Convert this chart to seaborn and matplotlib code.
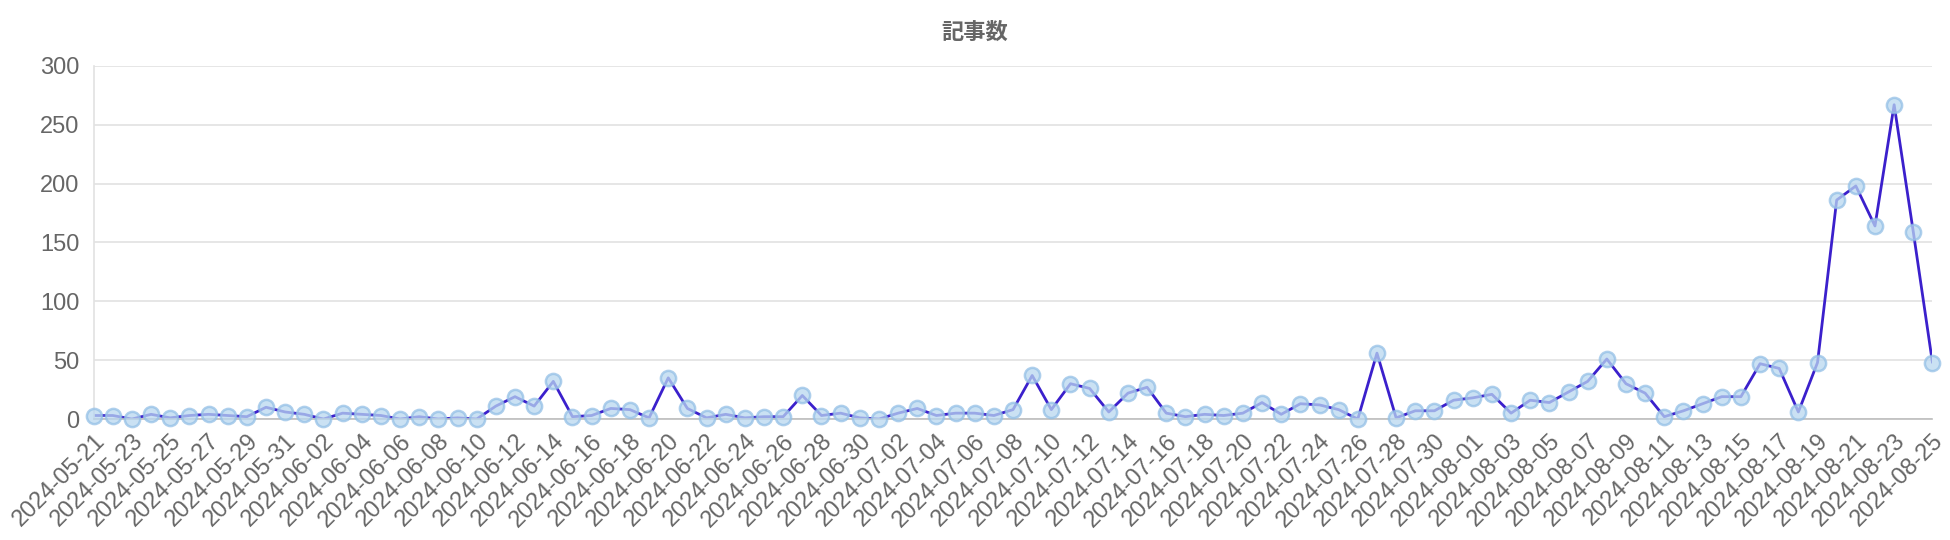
import pandas as pd
import seaborn as sns
import matplotlib.pyplot as plt
import matplotlib.dates as mdates

# ── Data ──────────────────────────────────────────────────────────────────────
start_date = "2024-05-21"
end_date = "2024-08-25"

counts_may = [3, 3, 0, 4, 1, 3, 4, 3, 2, 10, 6]
counts_jun = [4, 0, 5, 4, 3, 0, 2, 0, 1, 0, 11, 19, 11, 32, 2, 3, 9, 8, 1, 35,
              9, 1, 4, 1, 2, 2, 20, 3, 5, 1]
counts_jul = [0, 5, 9, 3, 5, 5, 3, 8, 37, 8, 30, 26, 6, 22, 27, 5, 2, 4, 3, 5,
              14, 4, 13, 12, 8, 0, 56, 1, 7, 7, 16]
counts_aug = [18, 21, 5, 16, 14, 23, 32, 51, 30, 22, 2, 7, 13, 19, 19, 47, 43,
              6, 48, 186, 198, 164, 267, 159, 48]

title = "記事数"
y_ticks = [0, 50, 100, 150, 200, 250, 300]

df = pd.DataFrame({
    "date": pd.date_range(start_date, end_date, freq="D"),
    "count": counts_may + counts_jun + counts_jul + counts_aug,
})

# ── Style ─────────────────────────────────────────────────────────────────────
sns.set_style("white")
plt.rcParams["font.family"] = ["Liberation Sans", "Noto Sans CJK JP", "DejaVu Sans"]

LINE_COLOR = "#3b20cc"
POINT_FILL = "#b9d7f0"
POINT_EDGE = "#94c0e6"
TEXT_COLOR = "#666666"
GRID_COLOR = "#e2e2e2"

fig, ax = plt.subplots(figsize=(19.5, 5.4), dpi=100)
fig.subplots_adjust(left=0.048, right=0.991, top=0.878, bottom=0.224)

sns.lineplot(data=df, x="date", y="count", color=LINE_COLOR, linewidth=2, ax=ax, zorder=2)
sns.scatterplot(data=df, x="date", y="count", s=120, color=POINT_FILL,
                edgecolor=POINT_EDGE, linewidth=1.8, alpha=0.75, ax=ax, zorder=3,
                clip_on=False)

# Axes limits / ticks
ax.set_xlim(df["date"].iloc[0], df["date"].iloc[-1])
ax.set_ylim(0, 300)
ax.set_yticks(y_ticks)
ax.set_xticks(df["date"].iloc[::2])
ax.xaxis.set_major_formatter(mdates.DateFormatter("%Y-%m-%d"))
ax.set_xticklabels([d.strftime("%Y-%m-%d") for d in df["date"].iloc[::2]],
                   rotation=45, ha="right", rotation_mode="anchor")

ax.set_xlabel("")
ax.set_ylabel("")

ax.grid(axis="y", color=GRID_COLOR, linewidth=1.2)
ax.set_axisbelow(True)
for side in ["top", "right"]:
    ax.spines[side].set_visible(False)
ax.spines["left"].set_color(GRID_COLOR)
ax.spines["left"].set_linewidth(1.2)
ax.spines["bottom"].set_color("#bdbdbd")
ax.spines["bottom"].set_linewidth(1.2)

ax.tick_params(axis="y", length=7, color=GRID_COLOR, width=1.2, pad=3,
               labelsize=17, labelcolor=TEXT_COLOR)
ax.tick_params(axis="x", length=0, pad=8, labelsize=17, labelcolor=TEXT_COLOR)

fig.text(0.5, 0.94, title, ha="center", va="center", fontsize=16,
         fontweight="bold", color=TEXT_COLOR,
         family=["Noto Sans CJK JP", "DejaVu Sans"])

fig.savefig("out.png", dpi=100)
plt.close()
